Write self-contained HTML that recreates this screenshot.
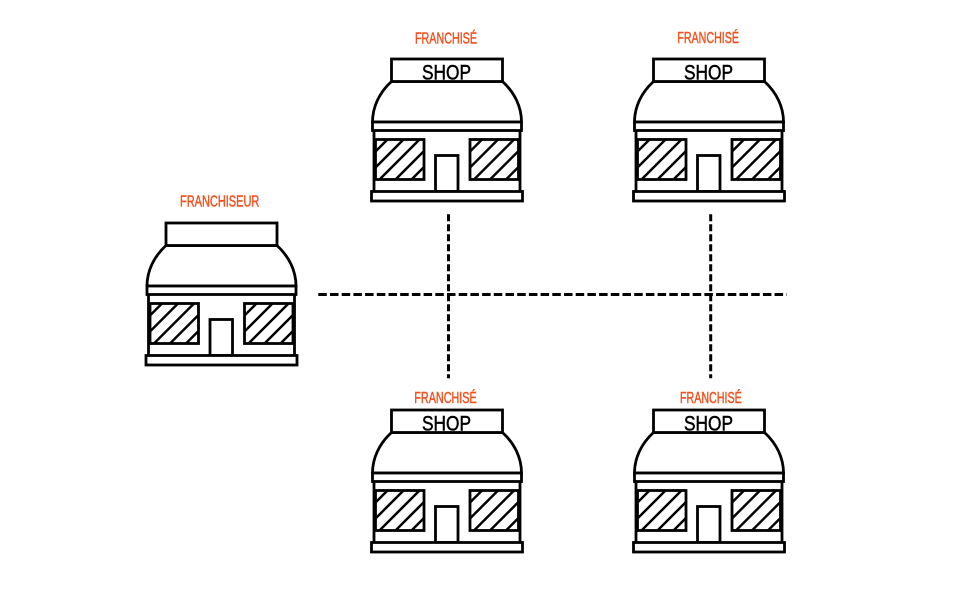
<!DOCTYPE html>
<html>
<head>
<meta charset="utf-8">
<style>
  html, body { margin: 0; padding: 0; background: #ffffff; }
  body { width: 980px; height: 590px; overflow: hidden; }
  svg { display: block; }
  .lbl { font-family: "Liberation Sans", sans-serif; font-size: 15.5px; fill: #f4511e; stroke: #f4511e; stroke-width: 0.45; }
  .shop { font-family: "Liberation Sans", sans-serif; font-size: 21px; fill: #000; stroke: #000; stroke-width: 0.5; }
  .s { fill: #fff; stroke: #000; stroke-width: 2.8; stroke-linejoin: miter; }
  .h { stroke: #000; stroke-width: 2.5; fill: none; }
  .d { stroke: #000; stroke-width: 3; fill: none; }
</style>
</head>
<body>
<svg width="980" height="590" viewBox="0 0 980 590" xmlns="http://www.w3.org/2000/svg">
  <rect width="980" height="590" fill="#fff"/>

  <!-- dashed connectors -->
  <line class="d" x1="318.3" y1="294.5" x2="786.7" y2="294.5" stroke-dasharray="8.5 3.2"/>
  <line class="d" x1="448.5" y1="214.3" x2="448.5" y2="378.3" stroke-dasharray="7 3"/>
  <line class="d" x1="710.7" y1="214.3" x2="710.7" y2="378.3" stroke-dasharray="7 3"/>

  <!-- Shop: top-left (base coords) -->
  <g transform="translate(0,0)">
    <path class="s" d="M391.5,81.5 A74.5,60.7 0 0 0 372.5,122 L521.5,122 A74.5,60.7 0 0 0 502.5,81.5 Z"/>
    <rect class="s" x="391.5" y="59" width="111" height="22.5"/>
    <rect class="s" x="372.5" y="122" width="149" height="8.5"/>
    <line class="h" x1="374" y1="130.5" x2="374" y2="191.5" style="stroke-width:2.8"/>
    <line class="h" x1="520" y1="130.5" x2="520" y2="191.5" style="stroke-width:2.8"/>
    <rect class="s" x="375.5" y="139.5" width="48.5" height="40"/>
    <rect class="s" x="470" y="139.5" width="48.5" height="40"/>
    <line class="h" x1="375.5" y1="151.5" x2="387.5" y2="139.5"/>
    <line class="h" x1="375.5" y1="167.5" x2="403.5" y2="139.5"/>
    <line class="h" x1="379.5" y1="179.5" x2="419.5" y2="139.5"/>
    <line class="h" x1="395.5" y1="179.5" x2="424" y2="151"/>
    <line class="h" x1="411.5" y1="179.5" x2="424" y2="167"/>
    <line class="h" x1="470" y1="151.5" x2="482" y2="139.5"/>
    <line class="h" x1="470" y1="167.5" x2="498" y2="139.5"/>
    <line class="h" x1="474" y1="179.5" x2="514" y2="139.5"/>
    <line class="h" x1="490" y1="179.5" x2="518.5" y2="151"/>
    <line class="h" x1="506" y1="179.5" x2="518.5" y2="167"/>
    <rect class="s" x="435.5" y="155.5" width="22.5" height="36"/>
    <rect class="s" x="371.5" y="191.5" width="151" height="9.5"/>
    <text class="shop" x="422" y="79.3" textLength="49" lengthAdjust="spacingAndGlyphs">SHOP</text>
  </g>

  <!-- Shop: top-right -->
  <g transform="translate(262,0)">
    <path class="s" d="M391.5,81.5 A74.5,60.7 0 0 0 372.5,122 L521.5,122 A74.5,60.7 0 0 0 502.5,81.5 Z"/>
    <rect class="s" x="391.5" y="59" width="111" height="22.5"/>
    <rect class="s" x="372.5" y="122" width="149" height="8.5"/>
    <line class="h" x1="374" y1="130.5" x2="374" y2="191.5" style="stroke-width:2.8"/>
    <line class="h" x1="520" y1="130.5" x2="520" y2="191.5" style="stroke-width:2.8"/>
    <rect class="s" x="375.5" y="139.5" width="48.5" height="40"/>
    <rect class="s" x="470" y="139.5" width="48.5" height="40"/>
    <line class="h" x1="375.5" y1="151.5" x2="387.5" y2="139.5"/>
    <line class="h" x1="375.5" y1="167.5" x2="403.5" y2="139.5"/>
    <line class="h" x1="379.5" y1="179.5" x2="419.5" y2="139.5"/>
    <line class="h" x1="395.5" y1="179.5" x2="424" y2="151"/>
    <line class="h" x1="411.5" y1="179.5" x2="424" y2="167"/>
    <line class="h" x1="470" y1="151.5" x2="482" y2="139.5"/>
    <line class="h" x1="470" y1="167.5" x2="498" y2="139.5"/>
    <line class="h" x1="474" y1="179.5" x2="514" y2="139.5"/>
    <line class="h" x1="490" y1="179.5" x2="518.5" y2="151"/>
    <line class="h" x1="506" y1="179.5" x2="518.5" y2="167"/>
    <rect class="s" x="435.5" y="155.5" width="22.5" height="36"/>
    <rect class="s" x="371.5" y="191.5" width="151" height="9.5"/>
    <text class="shop" x="422" y="79.3" textLength="49" lengthAdjust="spacingAndGlyphs">SHOP</text>
  </g>

  <!-- Shop: bottom-left -->
  <g transform="translate(0,351)">
    <path class="s" d="M391.5,81.5 A74.5,60.7 0 0 0 372.5,122 L521.5,122 A74.5,60.7 0 0 0 502.5,81.5 Z"/>
    <rect class="s" x="391.5" y="59" width="111" height="22.5"/>
    <rect class="s" x="372.5" y="122" width="149" height="8.5"/>
    <line class="h" x1="374" y1="130.5" x2="374" y2="191.5" style="stroke-width:2.8"/>
    <line class="h" x1="520" y1="130.5" x2="520" y2="191.5" style="stroke-width:2.8"/>
    <rect class="s" x="375.5" y="139.5" width="48.5" height="40"/>
    <rect class="s" x="470" y="139.5" width="48.5" height="40"/>
    <line class="h" x1="375.5" y1="151.5" x2="387.5" y2="139.5"/>
    <line class="h" x1="375.5" y1="167.5" x2="403.5" y2="139.5"/>
    <line class="h" x1="379.5" y1="179.5" x2="419.5" y2="139.5"/>
    <line class="h" x1="395.5" y1="179.5" x2="424" y2="151"/>
    <line class="h" x1="411.5" y1="179.5" x2="424" y2="167"/>
    <line class="h" x1="470" y1="151.5" x2="482" y2="139.5"/>
    <line class="h" x1="470" y1="167.5" x2="498" y2="139.5"/>
    <line class="h" x1="474" y1="179.5" x2="514" y2="139.5"/>
    <line class="h" x1="490" y1="179.5" x2="518.5" y2="151"/>
    <line class="h" x1="506" y1="179.5" x2="518.5" y2="167"/>
    <rect class="s" x="435.5" y="155.5" width="22.5" height="36"/>
    <rect class="s" x="371.5" y="191.5" width="151" height="9.5"/>
    <text class="shop" x="422" y="79.3" textLength="49" lengthAdjust="spacingAndGlyphs">SHOP</text>
  </g>

  <!-- Shop: bottom-right -->
  <g transform="translate(262,351)">
    <path class="s" d="M391.5,81.5 A74.5,60.7 0 0 0 372.5,122 L521.5,122 A74.5,60.7 0 0 0 502.5,81.5 Z"/>
    <rect class="s" x="391.5" y="59" width="111" height="22.5"/>
    <rect class="s" x="372.5" y="122" width="149" height="8.5"/>
    <line class="h" x1="374" y1="130.5" x2="374" y2="191.5" style="stroke-width:2.8"/>
    <line class="h" x1="520" y1="130.5" x2="520" y2="191.5" style="stroke-width:2.8"/>
    <rect class="s" x="375.5" y="139.5" width="48.5" height="40"/>
    <rect class="s" x="470" y="139.5" width="48.5" height="40"/>
    <line class="h" x1="375.5" y1="151.5" x2="387.5" y2="139.5"/>
    <line class="h" x1="375.5" y1="167.5" x2="403.5" y2="139.5"/>
    <line class="h" x1="379.5" y1="179.5" x2="419.5" y2="139.5"/>
    <line class="h" x1="395.5" y1="179.5" x2="424" y2="151"/>
    <line class="h" x1="411.5" y1="179.5" x2="424" y2="167"/>
    <line class="h" x1="470" y1="151.5" x2="482" y2="139.5"/>
    <line class="h" x1="470" y1="167.5" x2="498" y2="139.5"/>
    <line class="h" x1="474" y1="179.5" x2="514" y2="139.5"/>
    <line class="h" x1="490" y1="179.5" x2="518.5" y2="151"/>
    <line class="h" x1="506" y1="179.5" x2="518.5" y2="167"/>
    <rect class="s" x="435.5" y="155.5" width="22.5" height="36"/>
    <rect class="s" x="371.5" y="191.5" width="151" height="9.5"/>
    <text class="shop" x="422" y="79.3" textLength="49" lengthAdjust="spacingAndGlyphs">SHOP</text>
  </g>

  <!-- Franchiseur shop (no sign text) -->
  <g transform="translate(-225.5,164)">
    <path class="s" d="M391.5,81.5 A74.5,60.7 0 0 0 372.5,122 L521.5,122 A74.5,60.7 0 0 0 502.5,81.5 Z"/>
    <rect class="s" x="391.5" y="59" width="111" height="22.5"/>
    <rect class="s" x="372.5" y="122" width="149" height="8.5"/>
    <line class="h" x1="374" y1="130.5" x2="374" y2="191.5" style="stroke-width:2.8"/>
    <line class="h" x1="520" y1="130.5" x2="520" y2="191.5" style="stroke-width:2.8"/>
    <rect class="s" x="375.5" y="139.5" width="48.5" height="40"/>
    <rect class="s" x="470" y="139.5" width="48.5" height="40"/>
    <line class="h" x1="375.5" y1="151.5" x2="387.5" y2="139.5"/>
    <line class="h" x1="375.5" y1="167.5" x2="403.5" y2="139.5"/>
    <line class="h" x1="379.5" y1="179.5" x2="419.5" y2="139.5"/>
    <line class="h" x1="395.5" y1="179.5" x2="424" y2="151"/>
    <line class="h" x1="411.5" y1="179.5" x2="424" y2="167"/>
    <line class="h" x1="470" y1="151.5" x2="482" y2="139.5"/>
    <line class="h" x1="470" y1="167.5" x2="498" y2="139.5"/>
    <line class="h" x1="474" y1="179.5" x2="514" y2="139.5"/>
    <line class="h" x1="490" y1="179.5" x2="518.5" y2="151"/>
    <line class="h" x1="506" y1="179.5" x2="518.5" y2="167"/>
    <rect class="s" x="435.5" y="155.5" width="22.5" height="36"/>
    <rect class="s" x="371.5" y="191.5" width="151" height="9.5"/>
  </g>

  <!-- Labels -->
  <text class="lbl" x="415" y="43.3" textLength="62" lengthAdjust="spacingAndGlyphs">FRANCHISÉ</text>
  <text class="lbl" x="677.3" y="43" textLength="61.7" lengthAdjust="spacingAndGlyphs">FRANCHISÉ</text>
  <text class="lbl" x="414.3" y="403" textLength="62.4" lengthAdjust="spacingAndGlyphs">FRANCHISÉ</text>
  <text class="lbl" x="680" y="403" textLength="61.7" lengthAdjust="spacingAndGlyphs">FRANCHISÉ</text>
  <text class="lbl" x="180" y="206.3" textLength="79.3" lengthAdjust="spacingAndGlyphs">FRANCHISEUR</text>
</svg>
</body>
</html>
